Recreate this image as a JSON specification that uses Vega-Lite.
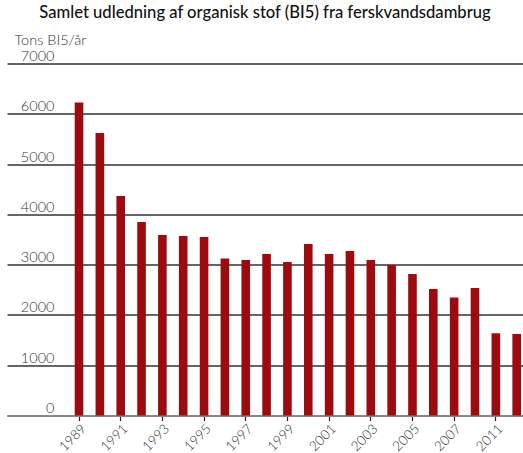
{
  "$schema": "https://vega.github.io/schema/vega-lite/v6.json",
  "width": 516,
  "height": 352,
  "autosize": "none",
  "padding": {"left": 7, "top": 63.5, "right": 0, "bottom": 37.5},
  "title": {
    "text": "Samlet udledning af organisk stof (BI5) fra ferskvandsdambrug",
    "font": "Lato",
    "fontSize": 16.6,
    "fontWeight": 500,
    "color": "#111",
    "anchor": "middle",
    "baseline": "alphabetic",
    "offset": -3
  },
  "data": {
    "values": [
      {"year": "1989", "value": 6225},
      {"year": "1990", "value": 5620},
      {"year": "1991", "value": 4365},
      {"year": "1992", "value": 3850},
      {"year": "1993", "value": 3590},
      {"year": "1994", "value": 3570},
      {"year": "1995", "value": 3550},
      {"year": "1996", "value": 3120},
      {"year": "1997", "value": 3090},
      {"year": "1998", "value": 3210},
      {"year": "1999", "value": 3055},
      {"year": "2000", "value": 3410},
      {"year": "2001", "value": 3210},
      {"year": "2002", "value": 3270},
      {"year": "2003", "value": 3090},
      {"year": "2004", "value": 2995},
      {"year": "2005", "value": 2815},
      {"year": "2006", "value": 2515},
      {"year": "2007", "value": 2345},
      {"year": "2008", "value": 2535},
      {"year": "2011", "value": 1635},
      {"year": "2012", "value": 1620}
    ]
  },
  "mark": {"type": "bar", "color": "#9c0b10"},
  "encoding": {
    "x": {
      "field": "year",
      "type": "ordinal",
      "scale": {
        "domain": ["_a","_b","_c","1989","1990","1991","1992","1993","1994","1995","1996","1997","1998","1999","2000","2001","2002","2003","2004","2005","2006","2007","2008","2011","2012"],
        "paddingInner": 0.587,
        "paddingOuter": 0.173,
        "align": 0.72
      },
      "axis": {
        "title": null,
        "values": ["1989","1991","1993","1995","1997","1999","2001","2003","2005","2007","2011"],
        "labelAngle": -45,
        "labelAlign": "right",
        "labelBaseline": "top",
        "labelFont": "Lato",
        "labelFontWeight": 300,
        "labelFontSize": 13.5,
        "labelColor": "#333",
        "domainColor": "#888",
        "domainWidth": 2,
        "tickColor": "#222",
        "tickSize": 5,
        "tickWidth": 1.2,
        "labelPadding": 1
      }
    },
    "y": {
      "field": "value",
      "type": "quantitative",
      "scale": {"domain": [0, 7000], "nice": false},
      "axis": {
        "title": "Tons BI5/år",
        "titleFont": "Lato",
        "titleFontWeight": 300,
        "titleFontSize": 14.5,
        "titleColor": "#333",
        "titleAngle": 0,
        "titleAlign": "left",
        "titleBaseline": "alphabetic",
        "titleX": 7,
        "titleY": -19.5,
        "values": [0,1000,2000,3000,4000,5000,6000,7000],
        "domain": false,
        "ticks": false,
        "grid": true,
        "gridColor": "#333",
        "gridWidth": 1.3,
        "labelFont": "Lato",
        "labelFontWeight": 300,
        "labelFontSize": 14.5,
        "labelColor": "#333",
        "labelAlign": "right",
        "labelBaseline": "alphabetic",
        "labelPadding": -47,
        "labelOffset": -3,
        "format": "d"
      }
    }
  },
  "config": {"view": {"stroke": null}}
}
